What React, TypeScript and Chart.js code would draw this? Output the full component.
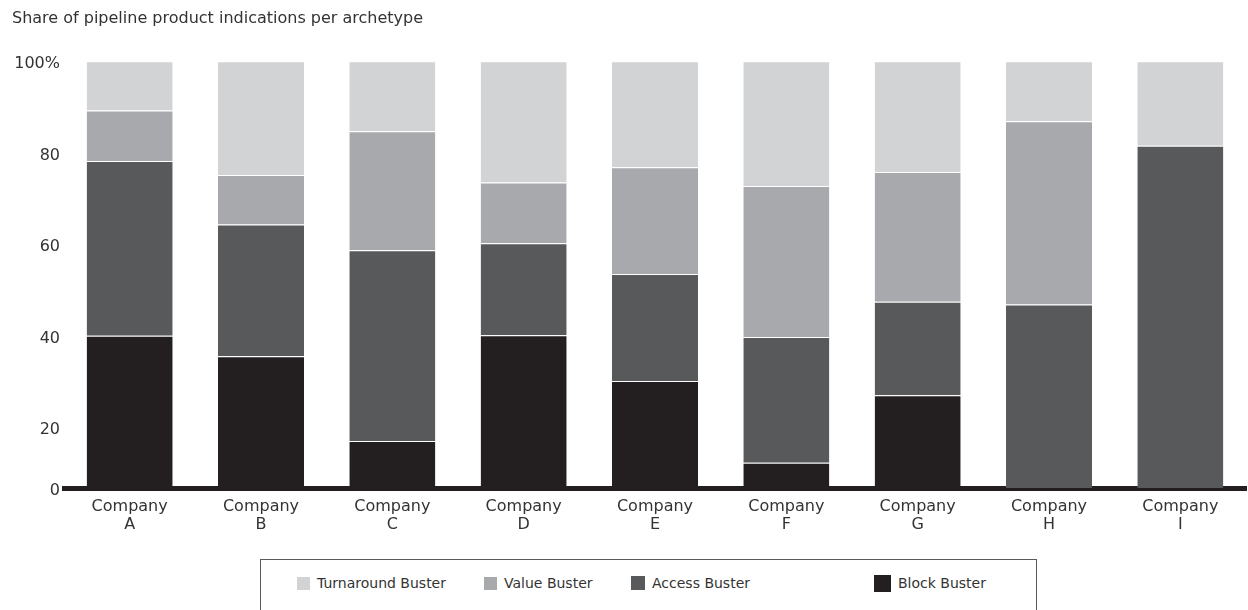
import React, { useEffect, useRef } from 'react';
import { Chart, registerables } from 'chart.js';

Chart.register(...registerables);

// ---- data ----
const categories: string[][] = [
  ['Company', 'A'], ['Company', 'B'], ['Company', 'C'], ['Company', 'D'], ['Company', 'E'],
  ['Company', 'F'], ['Company', 'G'], ['Company', 'H'], ['Company', 'I'],
];
const blockBuster = [40, 35.5, 17, 40.1, 30.1, 12.2, 27, 0, 0];
const accessBuster = [38.2, 28.8, 41.7, 20.1, 23.4, 27.5, 20.4, 46.8, 81.5];
const valueBuster = [11, 10.8, 26, 13.3, 23.3, 33, 28.4, 40.1, 0];
const turnaroundBuster = [10.8, 24.9, 15.3, 26.5, 23.2, 27.3, 24.2, 13.1, 18.5];

const seriesNames = ['Block Buster', 'Access Buster', 'Value Buster', 'Turnaround Buster'];
const seriesColors = ['#231f20', '#58595b', '#a7a9ac', '#d1d3d4'];

const yMin = 6.7;
const yMax = 100;
const yTickValues = [6.7, 20, 40, 60, 80, 100];
const yTickLabels = ['0', '20', '40', '60', '80', '100%'];

const titleText = 'Share of pipeline product indications per archetype';

const FONT = '"DejaVu Sans", sans-serif';
const TEXT = '#333333';

// legend layout (reverse order of stacking)
const legendOrder = [3, 2, 1, 0];
const legendLefts = [36, 223, 370, 613];
const legendBoxSizes = [13, 13, 14, 17];

export default function App() {
  const canvasRef = useRef<HTMLCanvasElement | null>(null);

  useEffect(() => {
    document.body.style.margin = '0';
    const canvas = canvasRef.current;
    if (!canvas) return;
    const series = [blockBuster, accessBuster, valueBuster, turnaroundBuster];
    const chart = new Chart(canvas, {
      type: 'bar',
      data: {
        labels: categories,
        datasets: series.map((d, i) => ({
          label: seriesNames[i],
          data: d,
          backgroundColor: seriesColors[i],
          borderColor: '#ffffff',
          borderWidth: { top: 1, left: 0, right: 0, bottom: 0 },
          borderSkipped: false,
          categoryPercentage: 1,
          barPercentage: 0.655,
        })),
      },
      options: {
        responsive: false,
        animation: false,
        devicePixelRatio: 1,
        layout: { padding: { left: 12, right: 2, top: 0, bottom: 0 } },
        plugins: {
          legend: { display: false },
          tooltip: { enabled: false },
          title: {
            display: true,
            text: titleText,
            align: 'start',
            color: TEXT,
            font: { family: FONT, size: 16, weight: 'normal' as any, lineHeight: 1.2 },
            padding: { top: 9, bottom: 33 },
          },
        },
        scales: {
          x: {
            stacked: true,
            z: 1,
            grid: { display: false, drawTicks: false },
            border: { display: true, color: '#231f20', width: 5 },
            ticks: {
              color: TEXT,
              padding: 10,
              maxRotation: 0,
              autoSkip: false,
              font: { family: FONT, size: 16, lineHeight: 1.1 },
            },
            afterFit: (scale: any) => { scale.height = 67; },
          },
          y: {
            stacked: true,
            min: yMin,
            max: yMax,
            grid: { display: false, drawTicks: false },
            border: { display: false },
            afterBuildTicks: (scale: any) => {
              scale.ticks = yTickValues.map((v) => ({ value: v }));
            },
            ticks: {
              color: TEXT,
              padding: 4,
              labelOffset: 3,
              font: { family: FONT, size: 16 },
              callback: (_v: any, index: number) => yTickLabels[index],
            },
            afterFit: (scale: any) => { scale.width = 52; },
          },
        },
      },
    });
    return () => chart.destroy();
  }, []);

  return (
    <div style={{ position: 'relative', width: 1248, height: 610, overflow: 'hidden', background: '#ffffff' }}>
      <canvas ref={canvasRef} width={1248} height={555} style={{ display: 'block', width: 1248, height: 555 }} />
      <div
        style={{
          position: 'absolute', left: 260, top: 559, width: 777, height: 80,
          boxSizing: 'border-box', border: '1px solid #58595b',
        }}
      >
        {legendOrder.map((si, k) => (
          <div
            key={si}
            style={{
              position: 'absolute', left: legendLefts[k], top: 13, height: 20,
              display: 'flex', alignItems: 'center', whiteSpace: 'nowrap',
              fontFamily: FONT, fontSize: 14, color: TEXT,
            }}
          >
            <span
              style={{
                display: 'inline-block', width: legendBoxSizes[k], height: legendBoxSizes[k],
                background: seriesColors[si], marginRight: 7,
              }}
            />
            <span>{seriesNames[si]}</span>
          </div>
        ))}
      </div>
    </div>
  );
}
